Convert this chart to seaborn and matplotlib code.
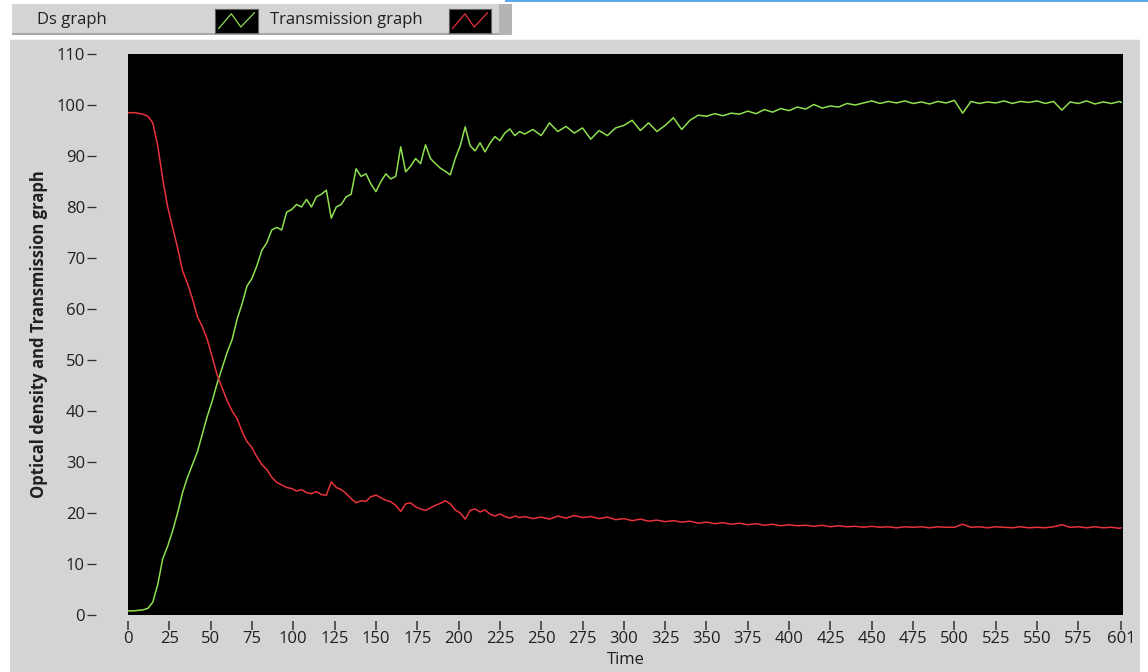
import matplotlib
matplotlib.use("Agg")
import pandas as pd
import matplotlib.pyplot as plt
from matplotlib.patches import Rectangle
import seaborn as sns

# readings taken off the LabVIEW graph
time = [0, 3, 6, 9, 12, 15, 18, 21, 24, 27, 30, 33, 36, 39, 42, 45, 48, 51, 54, 57,
        60, 63, 66, 69, 72, 75, 78, 81, 84, 87, 90, 93, 96, 99, 102, 105, 108, 111, 114, 117,
        120, 123, 126, 129, 132, 135, 138, 141, 144, 147, 150, 153, 156, 159, 162, 165, 168, 171, 174, 177,
        180, 183, 186, 189, 192, 195, 198, 201, 204, 207, 210, 213, 216, 219, 222, 225, 228, 231, 234, 237,
        240, 245, 250, 255, 260, 265, 270, 275, 280, 285, 290, 295, 300, 305, 310, 315, 320, 325, 330, 335,
        340, 345, 350, 355, 360, 365, 370, 375, 380, 385, 390, 395, 400, 405, 410, 415, 420, 425, 430, 435,
        440, 445, 450, 455, 460, 465, 470, 475, 480, 485, 490, 495, 500, 505, 510, 515, 520, 525, 530, 535,
        540, 545, 550, 555, 560, 565, 570, 575, 580, 585, 590, 595, 600, 601]

ds_graph = [0.8, 0.8, 0.9, 1.0, 1.3, 2.5, 6.0, 11.0, 13.5, 16.5, 20.0, 24.0, 27.0, 29.5, 32.0, 35.5, 39.0, 42.0, 45.5, 48.5,
            51.5, 54.0, 58.0, 61.0, 64.5, 66.0, 68.5, 71.5, 73.0, 75.5, 76.0, 75.5, 79.0, 79.5, 80.5, 80.0, 81.5, 80.0, 82.0, 82.5,
            83.3, 77.8, 80.0, 80.5, 82.0, 82.5, 87.5, 86.0, 86.5, 84.5, 83.0, 85.0, 86.5, 85.5, 86.0, 91.8, 86.9, 88.0, 89.5, 88.5,
            92.2, 89.5, 88.5, 87.6, 87.0, 86.3, 89.5, 92.0, 95.7, 92.0, 91.0, 92.6, 90.8, 92.5, 93.8, 93.0, 94.5, 95.3, 94.0, 94.8,
            94.3, 95.2, 94.0, 96.5, 94.8, 95.8, 94.5, 95.5, 93.3, 95.0, 94.0, 95.5, 96.0, 97.0, 95.0, 96.5, 94.8, 96.0, 97.5, 95.2,
            97.0, 98.0, 97.8, 98.3, 97.9, 98.4, 98.2, 98.8, 98.3, 99.1, 98.6, 99.3, 98.9, 99.6, 99.2, 100.1, 99.4, 99.8, 99.6, 100.3,
            100.0, 100.4, 100.8, 100.3, 100.7, 100.4, 100.8, 100.3, 100.6, 100.2, 100.7, 100.4, 100.9, 98.4, 100.7, 100.3, 100.6, 100.4, 100.8, 100.3,
            100.7, 100.5, 100.8, 100.3, 100.7, 99.0, 100.6, 100.3, 100.8, 100.2, 100.6, 100.3, 100.7, 100.5]

transmission_graph = [98.5, 98.5, 98.4, 98.2, 97.8, 96.5, 92.0, 85.5, 80.0, 76.0, 72.0, 67.5, 65.0, 62.0, 58.5, 56.5, 54.0, 50.5, 47.0, 44.5,
                      42.0, 40.0, 38.5, 36.0, 34.0, 32.8, 31.0, 29.5, 28.5, 27.0, 26.0, 25.5, 25.0, 24.8, 24.3, 24.6, 24.0, 23.8, 24.2, 23.6,
                      23.5, 26.1, 25.0, 24.6, 23.8, 22.8, 22.0, 22.4, 22.3, 23.2, 23.5, 23.0, 22.5, 22.2, 21.5, 20.3, 21.8, 22.0, 21.2, 20.8,
                      20.5, 21.0, 21.5, 21.9, 22.4, 21.8, 20.6, 20.0, 18.8, 20.5, 20.8, 20.2, 20.6, 19.8, 19.4, 19.8, 19.3, 19.0, 19.4, 19.1,
                      19.3, 18.9, 19.2, 18.8, 19.4, 19.0, 19.5, 19.1, 19.3, 18.9, 19.2, 18.7, 18.9, 18.5, 18.8, 18.4, 18.6, 18.3, 18.5, 18.2,
                      18.4, 18.0, 18.2, 17.9, 18.1, 17.8, 18.0, 17.7, 17.9, 17.6, 17.8, 17.5, 17.7, 17.5, 17.6, 17.4, 17.6, 17.3, 17.5, 17.3,
                      17.4, 17.2, 17.4, 17.2, 17.3, 17.1, 17.3, 17.2, 17.3, 17.1, 17.3, 17.2, 17.2, 17.8, 17.2, 17.3, 17.1, 17.3, 17.2, 17.1,
                      17.3, 17.1, 17.2, 17.1, 17.3, 17.7, 17.2, 17.3, 17.1, 17.3, 17.1, 17.2, 17.0, 17.1]

x_ticks = list(range(0, 576, 25)) + [601]
y_ticks = list(range(0, 111, 10))

W, H = 1148, 672
PT = 72 / 100  # points per pixel at dpi 100
PANEL = "#d4d4d4"
GREEN = "#8fe04f"
RED = "#e8323c"
TXT = "#202020"


def fig_box(fig, x, y, w, h, color):
    # x, y, w, h in pixels, origin top-left
    rect = Rectangle((x / W, 1 - (y + h) / H), w / W, h / H, transform=fig.transFigure,
                     facecolor=color, edgecolor="none", zorder=-5)
    fig.add_artist(rect)


def swatch(fig, x, y, w, h, color):
    sax = fig.add_axes([x / W, 1 - (y + h) / H, w / W, h / H])
    sax.set_facecolor("black")
    sax.plot([0.08, 0.38, 0.6, 0.92], [0.18, 0.8, 0.25, 0.85], color=color, lw=0.9)
    sax.set_xlim(0, 1)
    sax.set_ylim(0, 1)
    sax.set_xticks([])
    sax.set_yticks([])
    for s in sax.spines.values():
        s.set_color("#606060")


df = pd.DataFrame({"Time": time, "Ds graph": ds_graph, "Transmission graph": transmission_graph})
long_df = df.melt(id_vars="Time", var_name="series", value_name="value")

sns.set_style("dark")
plt.rcParams["font.family"] = ["Open Sans", "DejaVu Sans"]

fig = plt.figure(figsize=(W / 100, H / 100), dpi=100, facecolor="white")

# LabVIEW-ish panels
fig_box(fig, 505, 0, 643, 2, "#5aa9ee")
fig_box(fig, 12, 4, 500, 31, PANEL)
fig_box(fig, 12, 33, 500, 2, "#a8a8a8")
fig_box(fig, 499, 4, 13, 31, "#b4b4b4")
fig_box(fig, 10, 39, 1130, 633, PANEL)
fig_box(fig, 10, 39, 1130, 1, "#f4f4f4")

fig.text(37 / W, 1 - 20 / H, "Ds graph", fontsize=12, color=TXT, va="center")
fig.text(270 / W, 1 - 20 / H, "Transmission graph", fontsize=12, color=TXT, va="center")
swatch(fig, 215, 9, 43, 24, GREEN)
swatch(fig, 449, 9, 42, 24, RED)

ax = fig.add_axes([128 / W, (H - 615) / H, (1123 - 128) / W, 561 / H])
sns.lineplot(data=long_df, x="Time", y="value", hue="series",
             palette={"Ds graph": GREEN, "Transmission graph": RED},
             linewidth=1.1, legend=False, ax=ax)

ax.set_facecolor("black")
ax.grid(False)
ax.set_xlim(0, 602)
ax.set_ylim(0, 110)
ax.set_xticks(x_ticks)
ax.set_yticks(y_ticks)

for side in ["top", "right"]:
    ax.spines[side].set_visible(False)
ax.spines["left"].set_position(("outward", 41 * PT))
ax.spines["bottom"].set_position(("outward", 6 * PT))
ax.spines["left"].set_color("none")
ax.spines["bottom"].set_color("none")

ax.tick_params(axis="y", direction="in", length=9 * PT, width=1.3 * PT, color="#303030",
               pad=2 * PT, labelsize=12, labelcolor=TXT, left=True)
ax.tick_params(axis="x", direction="out", length=9 * PT, width=1.5 * PT, color="#303030",
               pad=1 * PT, labelsize=12, labelcolor=TXT, bottom=True)

ax.set_xlabel("Time", fontsize=12, color=TXT)
ax.set_ylabel("Optical density and Transmission graph", fontsize=12,
              fontweight="bold", color=TXT)
ax.xaxis.set_label_coords(0.5, -0.066)
ax.yaxis.set_label_coords(-0.080, 0.5)

fig.savefig("out.png", dpi=100, facecolor=fig.get_facecolor())
